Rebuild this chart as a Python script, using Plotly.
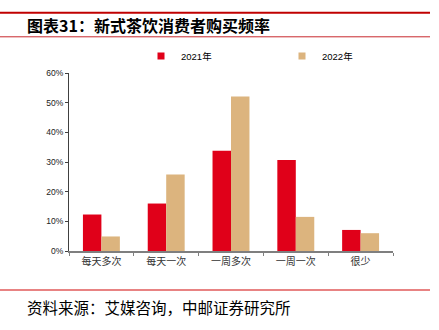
import plotly.graph_objects as go

categories = ["每天多次", "每天一次", "一周多次", "一周一次", "很少"]
series_names = ["2021年", "2022年"]
values_2021 = [12.3, 16.0, 33.8, 30.7, 7.1]
values_2022 = [4.9, 25.8, 52.1, 11.5, 6.0]
colors = ["#E00019", "#DCB47E"]
y_ticks = [0, 10, 20, 30, 40, 50, 60]
y_tick_text = [f"{v}%" for v in y_ticks]

title_text = "<b>图表31：新式茶饮消费者购买频率</b>"
source_text = "资料来源：艾媒咨询，中邮证券研究所"

W, H = 439, 330
L, R, T, B = 69, 46, 73, 78.5
pw, ph = W - L - R, H - T - B

def px_x(x):
    return (x - L) / pw

def px_y(y):
    return (H - B - y) / ph

fig = go.Figure()
for name, vals, col in zip(series_names, [values_2021, values_2022], colors):
    fig.add_trace(go.Bar(x=categories, y=vals, name=name, marker=dict(color=col, line=dict(width=0)),
                         showlegend=False))
    fig.add_trace(go.Scatter(x=[None], y=[None], mode="markers", name=name,
                             marker=dict(symbol="square", size=7, color=col)))

fig.update_layout(
    width=W, height=H,
    margin=dict(l=L, r=R, t=T, b=B),
    paper_bgcolor="white", plot_bgcolor="white",
    barmode="group", bargap=0.43, bargroupgap=0,
    font=dict(family="Liberation Sans, Arial, sans-serif", color="#000000"),
    legend=dict(orientation="h", x=px_x(141), y=px_y(56), xanchor="left", yanchor="middle",
                font=dict(size=9.5, family="Liberation Sans, Noto Sans CJK SC"),
                entrywidth=96, entrywidthmode="pixels", itemsizing="trace",
                bgcolor="rgba(0,0,0,0)"),
    xaxis=dict(type="category", tickson="boundaries", ticks="outside", ticklen=3,
               tickcolor="#7f7f7f", tickwidth=1, showline=True, linecolor="#7f7f7f", linewidth=2,
               tickfont=dict(size=10, family="Noto Sans CJK SC", color="#333"),
               showgrid=False, range=[-0.5, 4.5]),
    yaxis=dict(range=[0, 60], tickvals=y_ticks, ticktext=y_tick_text, ticks="outside", ticklen=3,
               tickcolor="#404040", showline=True, linecolor="#404040", linewidth=1,
               showgrid=False, zeroline=False,
               tickfont=dict(size=8.5, family="Liberation Sans, Arial", color="#222")),
    shapes=[
        dict(type="line", xref="paper", yref="paper", x0=px_x(0), x1=px_x(430),
             y0=px_y(12.7), y1=px_y(12.7), line=dict(color="#C00000", width=2)),
        dict(type="line", xref="paper", yref="paper", x0=px_x(0), x1=px_x(430),
             y0=px_y(36.7), y1=px_y(36.7), line=dict(color="#C8282E", width=1)),
        dict(type="line", xref="paper", yref="paper", x0=px_x(0), x1=px_x(430),
             y0=px_y(290.7), y1=px_y(290.7), line=dict(color="#E05A5A", width=1.5)),
    ],
    annotations=[
        dict(text=title_text, xref="paper", yref="paper", x=px_x(25), y=px_y(25),
             xanchor="left", yanchor="middle", showarrow=False,
             font=dict(size=16, family="Noto Sans CJK SC", color="#000")),
        dict(text=source_text, xref="paper", yref="paper", x=px_x(25), y=px_y(308),
             xanchor="left", yanchor="middle", showarrow=False,
             font=dict(size=15.5, family="Noto Sans CJK SC", color="#000")),
    ],
)

fig.write_html("out.html")
